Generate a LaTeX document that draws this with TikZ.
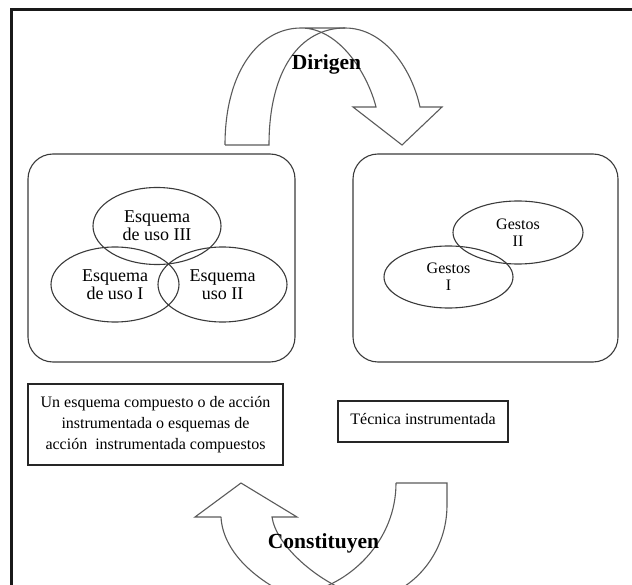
\documentclass[tikz,border=0pt]{standalone}
\usepackage{fontspec}
\usetikzlibrary{shapes.geometric}
\setmainfont{Liberation Serif}
\newcommand\esqfont{\fontsize{18}{18}\selectfont}
\newcommand\gesfont{\fontsize{16}{17}\selectfont}
\newcommand\bodyfont{\fontsize{16}{21}\selectfont}
\newcommand\verbfont{\fontsize{21.5}{22}\selectfont\bfseries}
\definecolor{outline}{HTML}{3A3A3A}
\definecolor{arrowgray}{HTML}{5A5A5A}
\begin{document}
\begin{tikzpicture}[x=1pt,y=-1pt,
  panel/.style={draw=outline, line width=1.1pt, rounded corners=25pt, inner sep=0pt},
  ell/.style={ellipse, draw=outline, line width=1.1pt, inner sep=0pt, align=center},
  textbox/.style={rectangle, draw=black!85, line width=1.1pt, inner sep=0pt, align=center, font=\bodyfont},
  bigarrow/.style={draw=arrowgray, line width=1.1pt, line join=miter},
  verb/.style={font=\verbfont, inner sep=0pt, anchor=base}]
\useasboundingbox (0,0) rectangle (632,585);
\clip (0,0) rectangle (632,585);

% outer frame (only its top and left edges fall inside the page)
\draw[line width=2.5pt, black!90] (11.3,600) -- (11.3,9.7) -- (640,9.7);

% the two panels
\node[panel, minimum width=267pt, minimum height=208pt] (lpanel) at (161.5,258) {};
\node[panel, minimum width=265pt, minimum height=208pt] (rpanel) at (485.5,258) {};

% usage schemes
\node[ell, font=\esqfont, minimum width=128pt, minimum height=77pt] (uso3) at (157,226) {Esquema\\de uso III};
\node[ell, font=\esqfont, minimum width=128pt, minimum height=75pt] (uso1) at (115,284.5) {Esquema\\de uso I};
\node[ell, font=\esqfont, minimum width=129pt, minimum height=75pt] (uso2) at (222.5,284.5) {Esquema\\uso II};

% gestures
\node[ell, font=\gesfont, minimum width=130pt, minimum height=63pt] (ges2) at (518,232.5) {Gestos\\II};
\node[ell, font=\gesfont, minimum width=129pt, minimum height=62pt] (ges1) at (448.5,277) {Gestos\\I};

% captions
\node[textbox, minimum width=255pt, minimum height=81pt] (compuesto) at (155.5,424.5)
  {Un esquema compuesto o de acción\\instrumentada o esquemas de\\acción\ \ instrumentada compuestos};
\node[textbox, minimum width=170pt, minimum height=41pt, text height=6pt, text depth=0pt] (tecnica) at (423,421.5)
  {Técnica instrumentada};

% curved arrow over the top: "Dirigen"
\draw[bigarrow] (225,145) .. controls (225,70) and (260,28) .. (301,28) -- (345,28)
  .. controls (385,28) and (412,70) .. (420,107) -- (442,107) -- (402,145) -- (353,107) -- (376,107)
  .. controls (368,75) and (340,28) .. (301,28);
\draw[bigarrow] (225,145) -- (269,145) .. controls (269,70) and (300,28) .. (345,28);
\node[verb] (dirigen) at (326.5,70) {Dirigen};

% curved arrow along the bottom: "Constituyen"
\draw[bigarrow] (221,517) -- (195,517) -- (241,483) -- (297,517) -- (272,517)
  .. controls (276,545) and (315,578) .. (345,590);
\draw[bigarrow] (221,517) .. controls (223,555) and (262,585) .. (300,600);
\draw[bigarrow] (396,483) -- (447,483) -- (447,505) .. controls (447,550) and (418,585) .. (385,596);
\draw[bigarrow] (396,483) .. controls (396,540) and (352,580) .. (315,590);
\node[verb] (constituyen) at (323.5,548) {Constituyen};
\end{tikzpicture}
\end{document}
